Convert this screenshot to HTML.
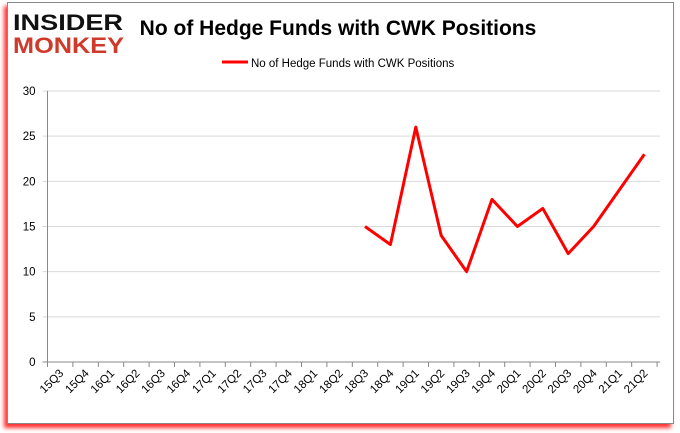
<!DOCTYPE html>
<html><head><meta charset="utf-8"><style>
body{margin:0;background:#fff;width:680px;height:433px;overflow:hidden;font-family:"Liberation Sans",sans-serif}
#frame{position:absolute;left:7px;top:2px;width:665px;height:420px;border:1px solid #888;background:#fff;box-shadow:-3px 4px 4px #f33}
</style></head><body>
<div id="frame"></div>
<svg id="c" width="680" height="433" style="position:absolute;left:0;top:0">
<g>
<text x="13" y="30" font-family="Liberation Sans" font-weight="900" font-size="22" fill="#111" textLength="110" lengthAdjust="spacingAndGlyphs">INSIDER</text>
<text x="13" y="53" font-family="Liberation Sans" font-weight="900" font-size="22" fill="#d03a2a" textLength="111" lengthAdjust="spacingAndGlyphs">MONKEY</text>
</g>
<text x="338" y="35" text-anchor="middle" font-size="21" font-weight="bold" fill="#000">No of Hedge Funds with CWK Positions</text>
<g><line x1="222" y1="62" x2="248" y2="62" stroke="red" stroke-width="3"/><text x="251" y="67" font-size="11.5" fill="#000">No of Hedge Funds with CWK Positions</text></g>
<g id="axes"></g>
</svg>
<script>
const categories=["15Q3","15Q4","16Q1","16Q2","16Q3","16Q4","17Q1","17Q2","17Q3","17Q4","18Q1","18Q2","18Q3","18Q4","19Q1","19Q2","19Q3","19Q4","20Q1","20Q2","20Q3","20Q4","21Q1","21Q2"];
const values=[null,null,null,null,null,null,null,null,null,null,null,null,15,13,26,14,10,18,15,17,12,15,19,23];
const yTicks=[0,5,10,15,20,25,30];
const NS="http://www.w3.org/2000/svg";
const g=document.getElementById('axes');
const x0=47.5,step=25.4,yB=362,yT=91,ymax=30;
const xs=i=>x0+step*(i+0.5);
const ys=v=>yB-(v/ymax)*(yB-yT);
function mk(t,a){const e=document.createElementNS(NS,t);for(const k in a)e.setAttribute(k,a[k]);g.appendChild(e);return e;}
yTicks.forEach(v=>{
 const l=mk('line',{x1:x0-5,x2:x0+step*categories.length+3,y1:ys(v),y2:ys(v),stroke:v===0?'#888':'#d9d9d9'});
 
 
 const t=mk('text',{x:x0-12,y:ys(v)+4,'text-anchor':'end','font-size':'11.5',fill:'#000'});t.textContent=v;
 
 
});
mk('line',{x1:x0,x2:x0,y1:yT,y2:yB,stroke:'#888'});
categories.forEach((c,i)=>{
 mk('line',{x1:x0+step*i,x2:x0+step*i,y1:yB,y2:yB+5,stroke:'#888'});
 const t=mk('text',{transform:`translate(${xs(i)+4},${yB+12}) rotate(-45)`,'text-anchor':'end','font-size':'11.5',fill:'#000'});t.textContent=c;
 
 
});
mk('line',{x1:x0+step*24,x2:x0+step*24,y1:yB,y2:yB+5,stroke:'#888'});
let d='';values.forEach((v,i)=>{if(v==null)return;d+=(d?'L':'M')+xs(i)+','+ys(v);});
const p=mk('path',{d:d,fill:'none',stroke:'red','stroke-width':3,'stroke-linejoin':'round'});


</script>
</body></html>
